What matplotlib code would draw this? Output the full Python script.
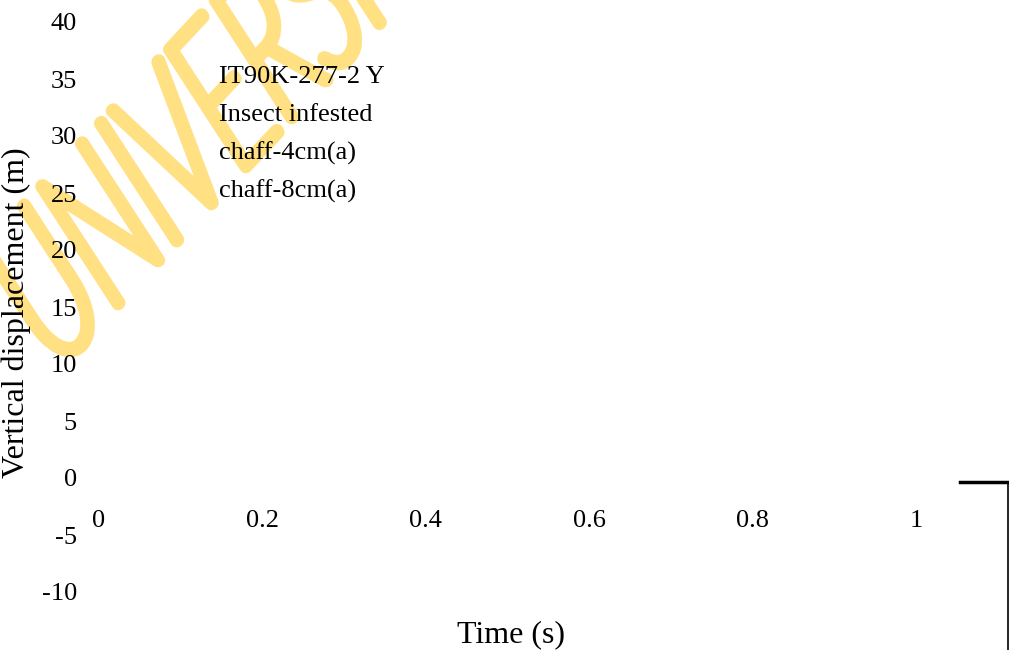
import numpy as np
import matplotlib
matplotlib.use("Agg")
import matplotlib.pyplot as plt
from matplotlib.lines import Line2D
from matplotlib.patches import PathPatch
from matplotlib.textpath import TextPath
from matplotlib.font_manager import FontProperties
from matplotlib.transforms import Affine2D

# axis ticks (no series lines are drawn in it)
x_ticks = [0, 0.2, 0.4, 0.6, 0.8, 1]
x_tick_labels = ["0", "0.2", "0.4", "0.6", "0.8", "1"]
y_ticks = [-10, -5, 0, 5, 10, 15, 20, 25, 30, 35, 40]
y_tick_labels = ["-10", "-5", "0", "5", "10", "15", "20", "25", "30", "35", "40"]
legend_labels = ["IT90K-277-2 Y", "Insect infested", "chaff-4cm(a)", "chaff-8cm(a)"]
watermark = "UNIVERSITY"

plt.rcParams['font.family'] = ['Liberation Serif', 'DejaVu Serif']

fig = plt.figure(figsize=(10.09, 6.5), dpi=100)
W, H = 1009, 650
ax = fig.add_axes([99 / W, 1 - 592 / H, (916 - 99) / W, (592 - 22) / H])
ax.set_facecolor('none')
ax.set_xlim(0, 1)
ax.set_ylim(-10, 40)

for s in ax.spines.values():
    s.set_visible(False)
ax.spines['bottom'].set_position(('data', 0))

ax.set_xticks(x_ticks)
ax.set_xticklabels(x_tick_labels)
ax.set_yticks(y_ticks)
ax.set_yticklabels(y_tick_labels)
ax.tick_params(axis='x', length=0, pad=23, labelsize=19)
ax.tick_params(axis='y', length=0, pad=16, labelsize=19)

ax.set_xlabel("Time (s)", fontsize=23)
ax.xaxis.set_label_coords(0.504, -0.05)
ax.set_ylabel("Vertical displacement (m)", fontsize=23)
ax.yaxis.set_label_coords(-0.083, 0.49)

# legend entries (no visible handles in the reference)
for i, lab in enumerate(legend_labels):
    ax.text(219 / W, 1 - (77 + 38.2 * i) / H, lab, transform=fig.transFigure,
            fontsize=19, va='center', ha='left')

# watermark: thin condensed letters, skewed and rotated, behind everything
wm_prop = FontProperties(family='Lato', weight=100)
tp = TextPath((0, 0), watermark, size=1, prop=wm_prop)
ex, ey = 115, 200                      # px per em along baseline / upward
a = np.array([np.cos(np.radians(47)), np.sin(np.radians(47))])
b = np.array([-np.cos(np.radians(57)), np.sin(np.radians(57))])
x_nr = TextPath((0, 0), "UN", size=1, prop=wm_prop).get_extents().x1 - 0.02
anchor = np.array([157, H - 262]) - x_nr * ex * a
M = np.array([[a[0] * ex, b[0] * ey, anchor[0]],
              [a[1] * ex, b[1] * ey, anchor[1]],
              [0, 0, 1]])
wm = PathPatch(tp, transform=Affine2D(M), facecolor='#FFE083',
               edgecolor='#FFE083', lw=9.5, joinstyle='round',
               capstyle='round', zorder=-5)
fig.add_artist(wm)

# stray frame corner at bottom right
fig.add_artist(Line2D([960 / W, 1009 / W], [1 - 482 / H, 1 - 482 / H],
                      color='black', lw=2.5, transform=fig.transFigure))
fig.add_artist(Line2D([1007.5 / W, 1007.5 / W], [1 - 482 / H, 0],
                      color='black', lw=1.2, transform=fig.transFigure))

fig.savefig("out.png", dpi=100)
